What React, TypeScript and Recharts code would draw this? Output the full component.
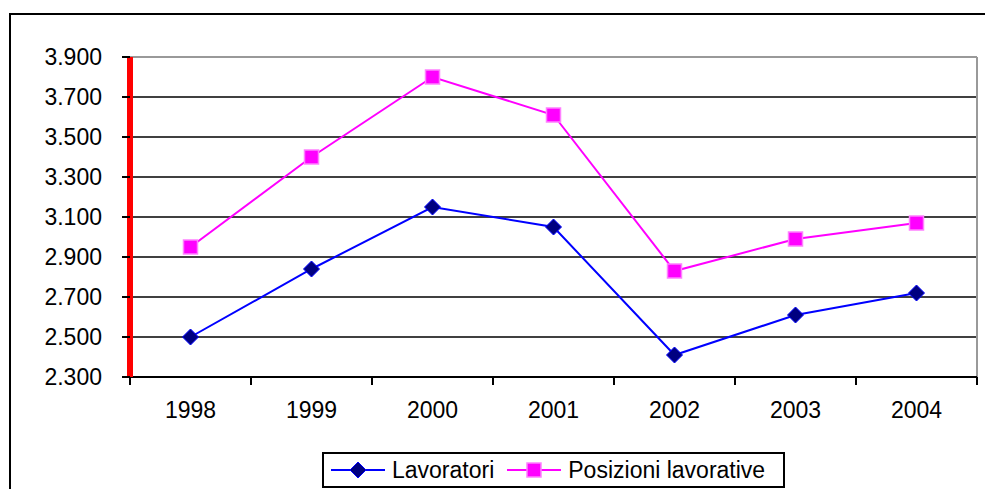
import React from 'react';
import { LineChart, Line, XAxis, YAxis, CartesianGrid, Legend, ReferenceLine } from 'recharts';

const years = ['1998', '1999', '2000', '2001', '2002', '2003', '2004'];
const lavoratori = [2500, 2840, 3150, 3050, 2410, 2610, 2720];
const posizioni = [2950, 3400, 3800, 3610, 2830, 2990, 3070];
const yTicks = [2300, 2500, 2700, 2900, 3100, 3300, 3500, 3700, 3900];

const data = years.map((year, i) => ({ year, lavoratori: lavoratori[i], posizioni: posizioni[i] }));

const W = 985;
const H = 489;
const M = { top: 57, right: 8, left: 0, bottom: 72 };
const Y_W = 130;
const plotW = W - M.left - M.right - Y_W;
const step = plotW / years.length;

const font = 'Arial, "Liberation Sans", sans-serif';
const fmt = (v: number) => String(v).replace(/\B(?=(\d{3})+(?!\d))/g, '.');

// category label plus the little tick marks that sit between categories
const YearTick = (props: any) => {
  const { x, y, payload, index } = props;
  const half = step / 2;
  return (
    <g>
      <line x1={x - half} x2={x - half} y1={y} y2={y + 8} stroke="#000" strokeWidth={2} />
      {index === years.length - 1 && <line x1={x + half} x2={x + half} y1={y} y2={y + 8} stroke="#000" strokeWidth={2} />}
      <text x={x} y={y + 25} dy="0.71em" textAnchor="middle" fill="#000" fontSize={23} fontFamily={font}>
        {payload.value}
      </text>
    </g>
  );
};

const Diamond = (props: any) => {
  const { cx, cy, key } = props;
  if (cx == null || cy == null) return <g key={key} />;
  const r = 8;
  return (
    <path key={key} d={`M${cx},${cy - r}L${cx + r},${cy}L${cx},${cy + r}L${cx - r},${cy}Z`} fill="#000080" stroke="#0000ff" strokeWidth={1} />
  );
};

const Square = (props: any) => {
  const { cx, cy, key } = props;
  if (cx == null || cy == null) return <g key={key} />;
  const r = 7;
  return <rect key={key} x={cx - r} y={cy - r} width={r * 2} height={r * 2} fill="#ff00ff" stroke="#ff80ff" strokeWidth={1.5} />;
};

const LegendBox = (props: any) => {
  const items = props.payload || [];
  return (
    <div style={{ border: '2px solid #000', background: '#fff', height: 36, display: 'flex', alignItems: 'center', paddingLeft: 6, boxSizing: 'border-box', fontFamily: font, fontSize: 23, color: '#000' }}>
      {items.map((it: any) => (
        <div key={it.dataKey} style={{ display: 'flex', alignItems: 'center', marginRight: 12 }}>
          <svg width={56} height={20} style={{ marginRight: 6 }}>
            <line x1={1} x2={55} y1={10} y2={10} stroke={it.color} strokeWidth={2} />
            {it.dataKey === 'lavoratori' ? (
              <path d="M28,2L36,10L28,18L20,10Z" fill="#000080" stroke="#0000ff" />
            ) : (
              <rect x={21} y={3} width={14} height={14} fill="#ff00ff" stroke="#ff80ff" strokeWidth={1.5} />
            )}
          </svg>
          <span>{it.value}</span>
        </div>
      ))}
    </div>
  );
};

export default function App() {
  return (
    <div style={{ position: 'absolute', left: 0, top: 0, width: W, height: H, overflow: 'hidden', background: '#fff' }}>
      <div style={{ position: 'absolute', left: 9, top: 13, width: 1100, height: 600, border: '2px solid #000' }} />
      <div style={{ position: 'absolute', left: 0, top: 0 }}>
        <LineChart width={W} height={H} data={data} margin={M} style={{ fontFamily: font }}>
          <CartesianGrid vertical={false} stroke="#000" strokeWidth={1.5} />
          <CartesianGrid horizontal={false} stroke="#999" strokeWidth={2} verticalCoordinatesGenerator={(p: any) => [p.offset.left + p.offset.width]} />
          <XAxis dataKey="year" height={40} padding={{ left: step / 2, right: step / 2 }} interval={0} tickLine={false} tickSize={0} tickMargin={0} tick={<YearTick />} axisLine={{ stroke: '#000', strokeWidth: 2 }} />
          <YAxis domain={[2300, 3900]} ticks={yTicks} interval={0} width={Y_W} tickSize={8} tickMargin={20} tickFormatter={fmt} tick={{ fill: '#000', fontSize: 23 }} tickLine={{ stroke: '#000', strokeWidth: 2 }} axisLine={{ stroke: 'red', strokeWidth: 6 }} />
          <ReferenceLine y={3900} stroke="#999" strokeWidth={2} />
          <Legend layout="horizontal" verticalAlign="middle" align="center" content={<LegendBox />} wrapperStyle={{ left: 322, top: 452, width: 463 }} />
          <Line dataKey="lavoratori" name="Lavoratori" stroke="#0000ff" strokeWidth={2} dot={Diamond} activeDot={false} isAnimationActive={false} />
          <Line dataKey="posizioni" name="Posizioni lavorative" stroke="#ff00ff" strokeWidth={2} dot={Square} activeDot={false} isAnimationActive={false} />
        </LineChart>
      </div>
    </div>
  );
}
